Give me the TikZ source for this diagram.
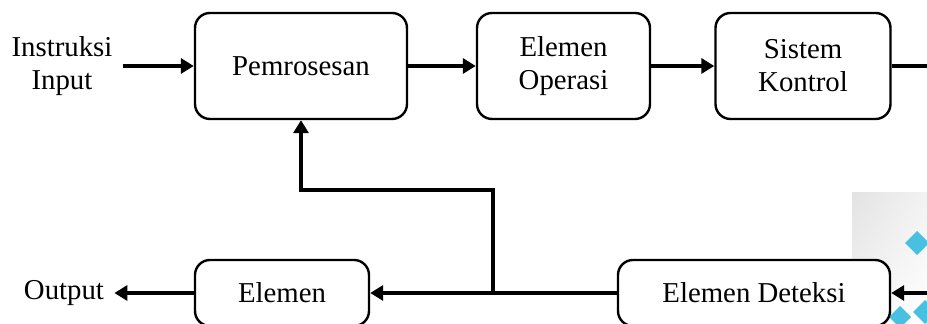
\documentclass[tikz,border=0pt]{standalone}
\usepackage{fontspec}
\setmainfont{Liberation Serif}
\usetikzlibrary{arrows.meta,shadings}
\definecolor{biru}{RGB}{72,192,226}
\tikzset{
	blok/.style={draw,line width=1.2pt,rounded corners=7.5pt,fill=white,align=center,inner sep=0pt,font=\fontsize{14.4}{16.5}\selectfont},
	teks/.style={align=center,inner sep=5pt,font=\fontsize{14.4}{16.5}\selectfont},
	panah/.style={line width=2pt,-{Triangle[length=6.5pt,width=7.5pt]}},
	garis/.style={line width=2pt},
	berlian/.style={fill=biru}
}
\begin{document}
\begin{tikzpicture}[x=0.5pt,y=-0.5pt]
\useasboundingbox (0,0) rectangle (927,324);
\clip (0,0) rectangle (927,324);
% latar pojok kanan bawah
\shade[upper left=gray!22,upper right=gray!10,lower left=gray!8,lower right=white] (852,193) rectangle (927,324);
\fill[berlian] (917,231)--(929,243)--(917,255)--(905,243)--cycle;
\fill[berlian] (925,300)--(937,312)--(925,324)--(913,312)--cycle;
\fill[berlian] (900,306)--(911,317)--(900,328)--(889,317)--cycle;
% blok atas
\node[teks] (input) at (62,66) {Instruksi\\Input};
\node[blok,minimum width=106pt,minimum height=53pt] (proses) at (301,66) {Pemrosesan};
\node[blok,minimum width=86.5pt,minimum height=53pt] (operasi) at (563.5,66) {Elemen\\Operasi};
\node[blok,minimum width=87.5pt,minimum height=53pt] (kontrol) at (803,66) {Sistem\\Kontrol};
% blok bawah
\node[teks] (output) at (64,293) {Output};
\node[blok,minimum width=87pt,minimum height=33pt] (elemen) at (282,293) {Elemen};
\node[blok,minimum width=136pt,minimum height=33pt] (deteksi) at (754,293) {Elemen Deteksi};
\coordinate (kanan1) at (940,66);
\coordinate (kanan2) at (940,293);
\coordinate (cabang) at (493,293);
% panah
\draw[panah] (input) -- (proses);
\draw[panah] (proses) -- (operasi);
\draw[panah] (operasi) -- (kontrol);
\draw[garis] (kontrol) -- (kanan1);
\draw[panah] (kanan2) -- (deteksi);
\draw[panah] (deteksi) -- (elemen);
\draw[panah] (elemen) -- (output);
\draw[panah] (cabang) -- ++(0,-103) -| (proses.south);
\end{tikzpicture}
\end{document}
